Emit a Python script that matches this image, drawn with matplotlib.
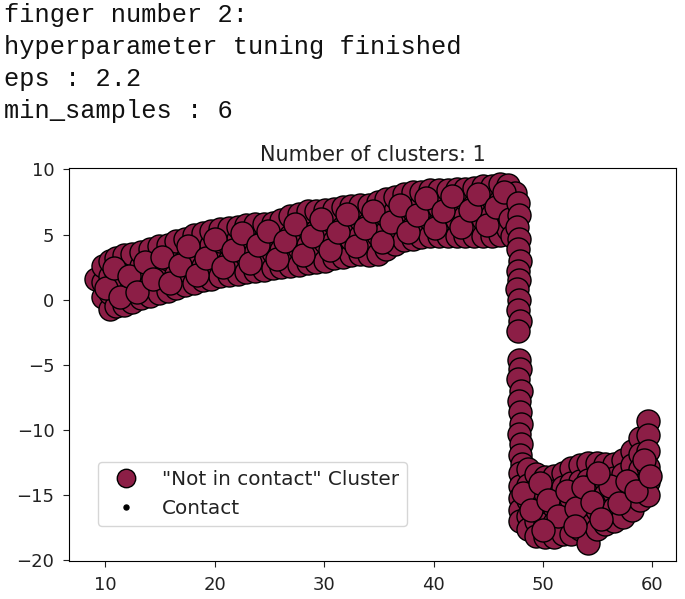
import numpy as np
import matplotlib
matplotlib.use("Agg")
import matplotlib.pyplot as plt

# header text printed above the plot (notebook output)
header_lines = ["finger number 2:", "hyperparameter tuning finished", "eps : 2.2", "min_samples : 6"]
title = "Number of clusters: 1"
cluster_label = '"Not in contact" Cluster'
contact_label = "Contact"

# upper band
upper_x = [9.2,
           9.8, 9.8, 9.8,
           10.4, 10.4, 10.4, 10.4,
           11.0, 11.0, 11.0, 11.0,
           11.7, 11.7, 11.7, 11.7, 11.7,
           12.5, 12.5, 12.5, 12.5,
           13.3, 13.3, 13.3, 13.3,
           14.1, 14.1, 14.1, 14.1,
           14.9, 14.9, 14.9, 14.9,
           15.7, 15.7, 15.7, 15.7,
           16.5, 16.5, 16.5, 16.5,
           17.3, 17.3, 17.3, 17.3,
           18.1, 18.1, 18.1, 18.1,
           18.9, 18.9, 18.9, 18.9,
           19.7, 19.7, 19.7, 19.7,
           20.5, 20.5, 20.5, 20.5,
           21.3, 21.3, 21.3, 21.3,
           22.1, 22.1, 22.1, 22.1,
           22.9, 22.9, 22.9, 22.9,
           23.7, 23.7, 23.7, 23.7,
           24.5, 24.5, 24.5, 24.5,
           25.3, 25.3, 25.3, 25.3,
           26.1, 26.1, 26.1, 26.1,
           26.9, 26.9, 26.9, 26.9,
           27.7, 27.7, 27.7, 27.7,
           28.5, 28.5, 28.5, 28.5,
           29.3, 29.3, 29.3, 29.3,
           30.1, 30.1, 30.1, 30.1,
           30.9, 30.9, 30.9, 30.9,
           31.7, 31.7, 31.7, 31.7,
           32.5, 32.5, 32.5, 32.5,
           33.3, 33.3, 33.3, 33.3,
           34.1, 34.1, 34.1, 34.1,
           34.9, 34.9, 34.9, 34.9,
           35.7, 35.7, 35.7, 35.7,
           36.5, 36.5, 36.5, 36.5,
           37.3, 37.3, 37.3, 37.3,
           38.1, 38.1, 38.1, 38.1,
           38.9, 38.9, 38.9, 38.9,
           39.7, 39.7, 39.7, 39.7,
           40.5, 40.5, 40.5, 40.5,
           41.3, 41.3, 41.3, 41.3,
           42.1, 42.1, 42.1, 42.1,
           42.9, 42.9, 42.9, 42.9,
           43.7, 43.7, 43.7, 43.7,
           44.5, 44.5, 44.5, 44.5,
           45.3, 45.3, 45.3, 45.3,
           46.1, 46.1, 46.1, 46.1,
           46.8, 46.8, 46.8, 46.8,
           47.4, 47.4, 47.4]
upper_y = [1.6,
           0.2, 1.4, 2.6,
           -0.7, 0.5, 1.8, 3.0,
           -0.5, 0.9, 2.1, 3.2,
           -0.4, 0.6, 1.5, 2.5, 3.4,
           -0.2, 1.1, 2.3, 3.5,
           0.1, 1.4, 2.6, 3.7,
           0.3, 1.2, 2.2, 3.9,
           0.5, 1.7, 2.9, 4.1,
           0.7, 1.9, 3.1, 4.2,
           0.9, 2.0, 3.3, 4.5,
           1.1, 2.3, 3.0, 4.7,
           1.3, 2.5, 3.7, 5.0,
           1.5, 2.6, 3.9, 5.1,
           1.6, 2.9, 4.2, 5.3,
           1.8, 3.1, 4.5, 5.4,
           1.9, 3.0, 4.3, 5.5,
           2.0, 3.3, 4.7, 5.6,
           2.1, 3.4, 4.5, 5.7,
           2.2, 3.6, 4.8, 5.8,
           2.3, 3.3, 4.6, 5.8,
           2.4, 3.7, 5.0, 5.9,
           2.5, 3.8, 5.1, 6.1,
           2.6, 3.9, 4.9, 6.4,
           2.7, 4.0, 5.3, 6.6,
           2.8, 4.2, 5.5, 6.8,
           2.9, 4.1, 5.3, 6.8,
           3.0, 4.4, 5.7, 6.9,
           3.2, 4.5, 5.9, 7.0,
           3.3, 4.3, 5.6, 7.1,
           3.4, 4.7, 6.0, 7.2,
           3.5, 4.9, 6.2, 7.3,
           3.4, 4.6, 5.9, 7.3,
           3.5, 5.0, 6.3, 7.5,
           3.9, 5.2, 6.5, 7.7,
           4.3, 5.5, 6.8, 7.9,
           4.6, 5.8, 7.0, 8.1,
           4.7, 5.6, 6.9, 8.3,
           4.8, 6.0, 7.3, 8.3,
           4.9, 6.2, 7.5, 8.4,
           4.9, 5.9, 7.1, 8.4,
           4.9, 6.3, 7.6, 8.4,
           4.9, 6.1, 7.2, 8.5,
           4.9, 6.4, 7.7, 8.5,
           4.9, 6.0, 7.3, 8.6,
           4.9, 6.2, 7.5, 8.7,
           4.9, 6.5, 7.8, 8.7,
           5.0, 6.3, 7.6, 8.9,
           5.4, 6.6, 7.9, 8.8,
           5.8, 7.0, 8.2]

# extra points scattered inside the band
band_fill_x = [10.1, 10.8, 11.4, 12.2, 12.9, 13.6, 14.4, 15.2, 15.9, 16.8, 17.6, 18.4, 19.2,
               20.0, 20.8, 21.7, 22.5, 23.2, 24.0, 24.9, 25.7, 26.4, 27.3, 28.1, 28.9, 29.7,
               30.5, 31.3, 32.1, 32.9, 33.7, 34.5, 35.3, 36.1, 36.9, 37.7, 38.5, 39.3, 40.1,
               40.9, 41.7, 42.5, 43.3, 44.1, 44.9, 45.7, 46.4, 47.0, 47.2]
band_fill_y = [0.9, 2.4, 0.2, 1.8, 0.6, 2.9, 1.6, 3.3, 1.3, 2.7, 4.1, 1.9, 3.2,
               4.7, 2.5, 3.8, 5.1, 2.8, 4.2, 5.3, 3.1, 4.5, 5.8, 3.4, 4.9, 6.2,
               3.8, 5.2, 6.6, 4.1, 5.5, 6.8, 4.4, 6.0, 7.3, 5.2, 6.5, 7.8, 5.5,
               6.8, 8.0, 5.6, 6.9, 8.1, 5.7, 7.1, 8.3, 6.2, 4.9]

# vertical drop around x = 48
drop_x = [47.7, 47.8, 47.6, 47.8, 47.7, 47.9, 47.7, 47.8, 47.6, 47.8, 47.7, 47.9, 47.7,
          47.8, 47.9, 47.7, 48.0, 47.8, 47.9, 48.0, 47.8, 48.0, 47.9, 48.1]
drop_y = [7.4, 6.5, 5.6, 4.7, 3.9, 3.0, 2.2, 1.5, 0.8, 0.0, -0.8, -1.6, -2.4,
          -4.6, -5.3, -6.1, -7.0, -7.8, -8.6, -9.5, -10.3, -11.1, -11.9, -12.6]

# lower blob
blob_x = [47.9, 47.9, 47.9, 47.9, 47.9,
          48.6, 48.6, 48.6, 48.6, 48.6,
          49.4, 49.4, 49.4, 49.4, 49.4,
          50.2, 50.2, 50.2, 50.2, 50.2,
          51.0, 51.0, 51.0, 51.0, 51.0,
          51.8, 51.8, 51.8, 51.8, 51.8,
          52.6, 52.6, 52.6, 52.6, 52.6,
          53.4, 53.4, 53.4, 53.4, 53.4,
          54.1, 54.1, 54.1, 54.1, 54.1, 54.1,
          54.9, 54.9, 54.9, 54.9, 54.9,
          55.7, 55.7, 55.7, 55.7, 55.7,
          56.5, 56.5, 56.5, 56.5, 56.5,
          57.3, 57.3, 57.3, 57.3, 57.3,
          58.1, 58.1, 58.1, 58.1, 58.1,
          58.9, 58.9, 58.9, 58.9, 58.9,
          59.6, 59.6, 59.6, 59.6, 59.6, 59.6]
blob_y = [-13.3, -14.3, -15.2, -16.1, -17.0,
          -13.0, -14.2, -15.4, -16.6, -17.6,
          -13.4, -14.6, -15.8, -17.0, -18.1,
          -13.6, -14.8, -16.0, -17.2, -18.2,
          -13.5, -14.7, -15.9, -17.1, -18.2,
          -13.3, -14.4, -15.6, -16.8, -18.0,
          -12.9, -14.1, -15.3, -16.6, -18.0,
          -12.7, -13.9, -15.1, -16.4, -17.6,
          -12.5, -13.8, -15.0, -16.2, -17.4, -18.7,
          -12.5, -13.7, -14.9, -16.1, -17.6,
          -12.6, -13.8, -15.0, -16.2, -17.2,
          -12.6, -13.7, -14.8, -16.0, -17.0,
          -12.3, -13.4, -14.6, -15.7, -16.7,
          -11.6, -12.7, -13.8, -14.9, -16.1,
          -10.6, -11.8, -13.0, -14.2, -15.4,
          -9.3, -10.4, -11.6, -12.8, -14.0, -15.0]

blob_fill_x = [48.2, 48.9, 49.7, 50.5, 51.4, 52.2, 53.0, 53.7, 54.5, 55.3, 56.1, 56.9,
               57.7, 58.5, 59.2, 59.8, 50.0, 52.9, 55.0]
blob_fill_y = [-14.8, -16.1, -14.1, -15.4, -16.6, -14.7, -16.0, -14.4, -15.5, -16.8, -14.3, -15.6,
               -13.9, -14.7, -12.3, -13.5, -17.7, -17.4, -13.3]

X = np.array(upper_x + band_fill_x + drop_x + blob_x + blob_fill_x)
Y = np.array(upper_y + band_fill_y + drop_y + blob_y + blob_fill_y)

col = '#8c1e46'

fig = plt.figure(figsize=(6.85, 5.99), dpi=100)
for i, line in enumerate(header_lines):
    fig.text(4/685, 1 - (15 + 32*i)/599, line, family='Liberation Mono',
             fontsize=18.3, va='center', ha='left', color='#111111')

ax = fig.add_axes([69/685, 1 - 561/599, 607/685, 393.5/599])
ax.plot(X, Y, 'o', markerfacecolor=col, markeredgecolor='k',
        markersize=16.6, markeredgewidth=1.0, label=cluster_label)
ax.plot([], [], 'o', markerfacecolor='k', markeredgecolor='k',
        markersize=4.5, label=contact_label)

ax.set_xlim(6.7, 62.15)
ax.set_ylim(-20.05, 10.15)
ax.set_xticks([10, 20, 30, 40, 50, 60])
ax.set_yticks([10, 5, 0, -5, -10, -15, -20])
ax.tick_params(labelsize=13, pad=6.5, length=4, colors='#222222')
ax.set_title(title, fontsize=15, pad=5, color='#222222')

leg = ax.legend(loc='lower left', bbox_to_anchor=(0.048, 0.089), borderaxespad=0,
                fontsize=14.4, markerscale=0.8)
for t in leg.get_texts():
    t.set_color('#222222')

plt.savefig("out.png", dpi=100)
